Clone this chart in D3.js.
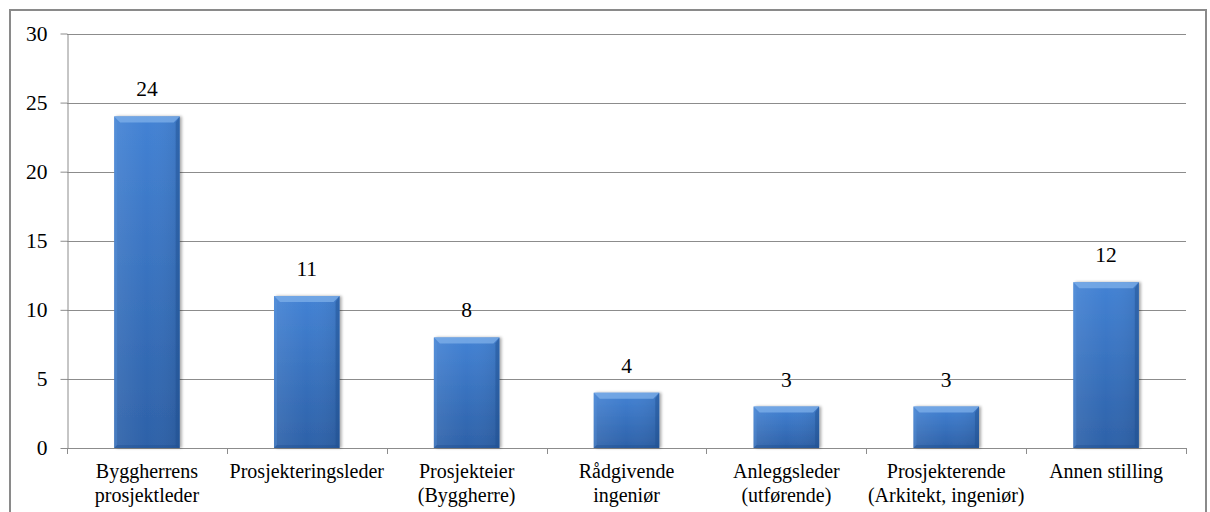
<!DOCTYPE html>
<html>
<head>
<meta charset="utf-8">
<script src="https://cdn.jsdelivr.net/npm/d3@7"></script>
<style>
  html, body { margin: 0; padding: 0; background: #fff; }
  svg { display: block; }
</style>
</head>
<body>
<svg id="chart" width="1210" height="512"></svg>
<script>
// Roles of respondents (count per role)
const categories = [
  ["Byggherrens", "prosjektleder"],
  ["Prosjekteringsleder"],
  ["Prosjekteier", "(Byggherre)"],
  ["Rådgivende", "ingeniør"],
  ["Anleggsleder", "(utførende)"],
  ["Prosjekterende", "(Arkitekt, ingeniør)"],
  ["Annen stilling"]
];
const values = [24, 11, 8, 4, 3, 3, 12];
const yTicks = [0, 5, 10, 15, 20, 25, 30];

const FONT = '"Liberation Serif", serif';

const svg = d3.select("#chart");
const plot = { left: 67, right: 1186, top: 33.5, bottom: 448 };

// outer frame
svg.append("rect")
  .attr("x", 10).attr("y", 10)
  .attr("width", 1196).attr("height", 510)
  .attr("fill", "#fff").attr("stroke", "#8a8a8a").attr("stroke-width", 2);

const keys = categories.map((c, i) => i);
const x = d3.scaleBand().domain(keys).range([plot.left, plot.right]).paddingInner(0.59).paddingOuter(0.295);
const xCat = d3.scaleBand().domain(keys).range([plot.left, plot.right]);
const y = d3.scaleLinear().domain([0, 30]).range([plot.bottom, plot.top]);

// gridlines
svg.append("g").selectAll("line").data(yTicks.filter(t => t > 0)).join("line")
  .attr("x1", plot.left).attr("x2", plot.right)
  .attr("y1", d => Math.round(y(d)) + 0.5).attr("y2", d => Math.round(y(d)) + 0.5)
  .attr("stroke", "#8c8c8c").attr("stroke-width", 1);

// y axis
const yAxis = svg.append("g")
  .attr("transform", `translate(${plot.left + 0.5},0)`)
  .call(d3.axisLeft(y).tickValues(yTicks).tickSize(7).tickPadding(13).tickSizeOuter(0));
yAxis.select(".domain").attr("stroke", "#8c8c8c");
yAxis.selectAll(".tick line").attr("stroke", "#8c8c8c");
yAxis.selectAll(".tick text").attr("fill", "#000")
  .style("font-family", FONT).style("font-size", "21.5px");

// x axis line and category ticks
svg.append("line")
  .attr("x1", plot.left).attr("x2", plot.right)
  .attr("y1", plot.bottom + 0.5).attr("y2", plot.bottom + 0.5)
  .attr("stroke", "#8c8c8c");
const boundaries = keys.map(k => xCat(k)).concat([plot.right]);
svg.append("g").selectAll("line").data(boundaries).join("line")
  .attr("x1", d => Math.round(d) + 0.5).attr("x2", d => Math.round(d) + 0.5)
  .attr("y1", plot.bottom).attr("y2", plot.bottom + 6)
  .attr("stroke", "#8c8c8c");

// bar gradients
const defs = svg.append("defs");
const g1 = defs.append("linearGradient").attr("id", "barFill")
  .attr("x1", 0).attr("y1", 0).attr("x2", 0).attr("y2", 1);
g1.append("stop").attr("offset", "0%").attr("stop-color", "#4382d4");
g1.append("stop").attr("offset", "100%").attr("stop-color", "#2d61a8");
const gh = defs.append("linearGradient").attr("id", "barSheen")
  .attr("x1", 0).attr("y1", 0).attr("x2", 1).attr("y2", 0);
gh.append("stop").attr("offset", "0%").attr("stop-color", "#ffffff").attr("stop-opacity", 0.08);
gh.append("stop").attr("offset", "50%").attr("stop-color", "#ffffff").attr("stop-opacity", 0.0);
gh.append("stop").attr("offset", "100%").attr("stop-color", "#000000").attr("stop-opacity", 0.08);
const filt = defs.append("filter").attr("id", "shadow").attr("x", "-20%").attr("y", "-20%").attr("width", "140%").attr("height", "140%");
filt.append("feGaussianBlur").attr("in", "SourceAlpha").attr("stdDeviation", 1.5);
filt.append("feOffset").attr("dx", 1.5).attr("dy", 0).attr("result", "b");
filt.append("feComponentTransfer").append("feFuncA").attr("type", "linear").attr("slope", 0.35);
const fm = filt.append("feMerge");
fm.append("feMergeNode");
fm.append("feMergeNode").attr("in", "SourceGraphic");

const bev = 6;
const bars = svg.append("g").selectAll("g").data(values).join("g");
bars.each(function(v, i) {
  const g = d3.select(this);
  const x0 = x(i), bw = x.bandwidth(), x1 = x0 + bw;
  const yt = y(v), yb = y(0);
  g.append("rect").attr("x", x0).attr("y", yt).attr("width", bw).attr("height", yb - yt)
    .attr("fill", "url(#barFill)").attr("filter", "url(#shadow)");
  g.append("rect").attr("x", x0).attr("y", yt).attr("width", bw).attr("height", yb - yt)
    .attr("fill", "url(#barSheen)");
  // bevel: top face
  g.append("polygon")
    .attr("points", [[x0, yt], [x1, yt], [x1 - bev, yt + bev], [x0 + bev, yt + bev]].join(" "))
    .attr("fill", "#7fb0ea").attr("opacity", 0.75);
  // bevel: left face
  g.append("polygon")
    .attr("points", [[x0, yt], [x0 + bev - 3, yt + bev], [x0 + bev - 3, yb - 3], [x0, yb]].join(" "))
    .attr("fill", "#5a95dc").attr("opacity", 0.35);
  // bevel: right face
  g.append("polygon")
    .attr("points", [[x1, yt], [x1 - bev + 2, yt + bev], [x1 - bev + 2, yb - 2], [x1, yb]].join(" "))
    .attr("fill", "#1f4f90").attr("opacity", 0.45);
  // bottom edge
  g.append("polygon")
    .attr("points", [[x0, yb], [x0 + 3, yb - 3], [x1 - 3, yb - 3], [x1, yb]].join(" "))
    .attr("fill", "#1f4f90").attr("opacity", 0.4);
  // value label
  g.append("text")
    .attr("x", x0 + bw / 2).attr("y", yt - 20)
    .attr("text-anchor", "middle").attr("fill", "#000")
    .style("font-family", FONT).style("font-size", "21.5px")
    .text(v);
});

// category labels
const labels = svg.append("g").selectAll("text").data(categories).join("text")
  .attr("x", (d, i) => xCat(i) + xCat.bandwidth() / 2)
  .attr("y", 478)
  .attr("text-anchor", "middle").attr("fill", "#000")
  .style("font-family", FONT).style("font-size", "20px");
labels.each(function(lines) {
  d3.select(this).selectAll("tspan").data(lines).join("tspan")
    .attr("x", d3.select(this).attr("x"))
    .attr("dy", (d, j) => j === 0 ? 0 : 23.5)
    .text(d => d);
});
</script>
</body>
</html>
